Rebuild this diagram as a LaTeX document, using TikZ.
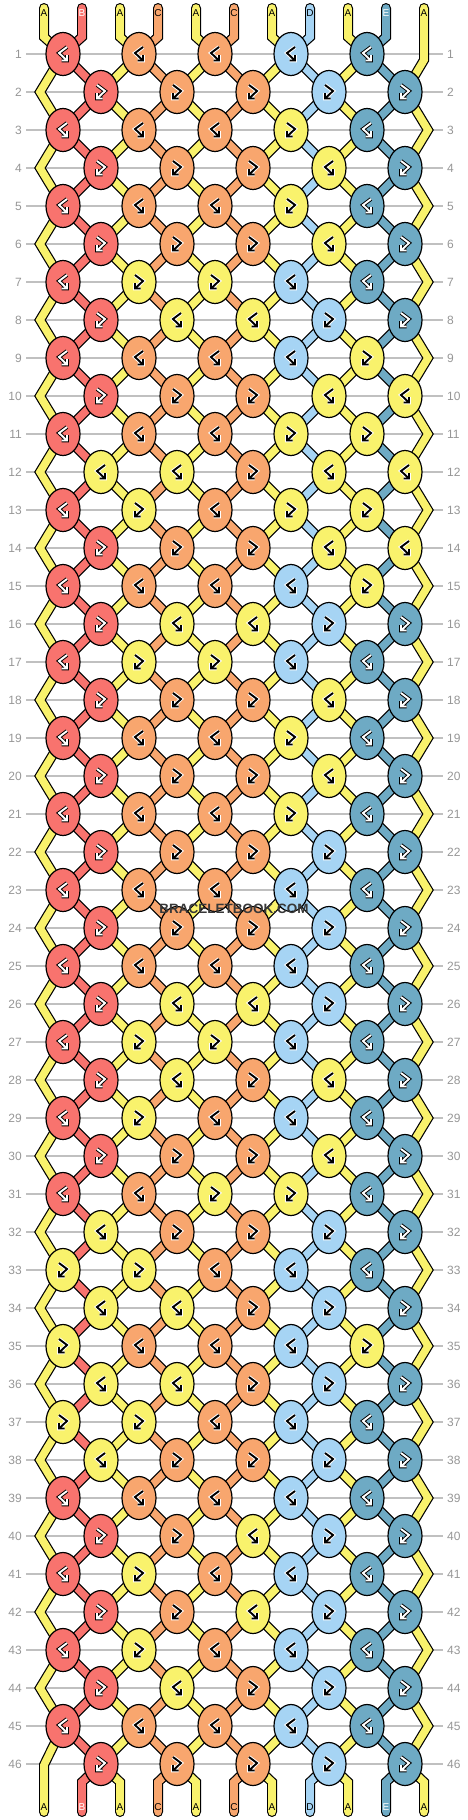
\documentclass[tikz,border=0pt]{standalone}
\usepackage{fontspec}
\setmainfont{Liberation Sans}
\usetikzlibrary{shapes.geometric}
\pgfdeclarelayer{background}
\pgfsetlayers{background,main}
\definecolor{colY}{RGB}{249,242,108}
\definecolor{colB}{RGB}{248,115,110}
\definecolor{colC}{RGB}{248,166,110}
\definecolor{colD}{RGB}{166,212,244}
\definecolor{colE}{RGB}{110,170,196}
\definecolor{gridgray}{RGB}{192,192,192}
\definecolor{labgray}{RGB}{150,150,150}
\tikzset{
  knot/.style={ellipse, draw=black, line width=1.2pt, minimum width=34pt, minimum height=43pt, inner sep=0pt},
  threadline/.style={line width=10pt, line join=miter},
  threadfill/.style={line width=7.6pt, line join=miter},
  glyphhalo/.style={line width=3.8pt, line join=miter},
  glyphink/.style={line width=1.9pt, line join=miter},
  rowlab/.style={text=labgray, font=\fontsize{12}{12}\selectfont, inner xsep=4pt},
  endlab/.style={font=\fontsize{10}{10}\selectfont, inner sep=0pt},
  gridline/.style={draw=gridgray, line width=1.2pt}
}
\def\lY{Y}\def\lB{B}\def\lE{E}
\begin{document}
\begin{tikzpicture}[x=1pt, y=-1pt]
\useasboundingbox (0,0) rectangle (468,1820);

% row numbers and guide lines
\foreach \r in {1,...,46}{
  \pgfmathsetmacro\ky{54+38*(\r-1)}
  \node[rowlab, anchor=east] (ll-\r) at (26,\ky) {\r};
  \node[rowlab, anchor=west] (rl-\r) at (443,\ky) {\r};
  \begin{pgfonlayer}{background}
    \draw[gridline] (ll-\r.east) -- (rl-\r.west);
  \end{pgfonlayer}
}

% knots: row / five knots (Y = the A thread on top)
\foreach \r/\ka/\kb/\kc/\kd/\ke in {1/B/C/C/D/E, 2/B/C/C/D/E, 3/B/C/C/Y/E, 4/B/C/C/Y/E,
  5/B/C/C/Y/E, 6/B/C/C/Y/E, 7/B/Y/Y/D/E, 8/B/Y/Y/D/E,
  9/B/C/C/D/Y, 10/B/C/C/Y/Y, 11/B/C/C/Y/Y, 12/Y/Y/C/Y/Y,
  13/B/Y/C/Y/Y, 14/B/C/C/Y/Y, 15/B/C/C/D/Y, 16/B/Y/Y/D/E,
  17/B/Y/Y/D/E, 18/B/C/C/Y/E, 19/B/C/C/Y/E, 20/B/C/C/Y/E,
  21/B/C/C/Y/E, 22/B/C/C/D/E, 23/B/C/C/D/E, 24/B/C/C/D/E,
  25/B/C/C/D/E, 26/B/Y/Y/D/E, 27/B/Y/Y/D/E, 28/B/Y/C/Y/E,
  29/B/Y/C/D/E, 30/B/C/C/Y/E, 31/B/C/Y/Y/E, 32/Y/C/C/D/E,
  33/Y/Y/C/D/E, 34/Y/Y/C/D/E, 35/Y/C/C/D/Y, 36/Y/Y/C/D/E,
  37/Y/Y/C/D/E, 38/Y/C/C/D/E, 39/B/C/C/D/E, 40/B/C/Y/D/E,
  41/B/Y/C/D/E, 42/B/C/Y/D/E, 43/B/Y/C/D/E, 44/B/Y/C/D/E,
  45/B/C/C/D/E, 46/B/C/C/D/E}{
  \pgfmathsetmacro\ky{54+38*(\r-1)}
  \ifodd\r\relax\def\kx{63}\else\def\kx{101}\fi
  \foreach \j/\kcol in {0/\ka,1/\kb,2/\kc,3/\kd,4/\ke}{
    \pgfmathsetmacro\xx{\kx+76*\j}
    \edef\cc{\kcol}
    \edef\cname{col\cc}
    \node[knot, fill=\cname] (k-\r-\j) at (\xx,\ky) {};
    \def\ink{black}\def\halo{white}
    \ifx\cc\lB\def\ink{white}\def\halo{black}\fi
    \ifx\cc\lE\def\ink{white}\def\halo{black}\fi
    \def\gs{1}
    \ifodd\r\relax
      \ifx\cc\lY\else\def\gs{-1}\fi
    \else
      \ifx\cc\lY\def\gs{-1}\fi
    \fi
    \begin{scope}[shift={(\xx,\ky)}, xscale=\gs]
      \draw[glyphhalo, draw=\halo] (-4,-7) -- (4,-1) -- (-4,6.5) (-4,1) -- (-4,6.5) -- (1.5,6.5);
      \draw[glyphink, draw=\ink] (-4,-7) -- (4,-1) -- (-4,6.5) (-4,1) -- (-4,6.5) -- (1.5,6.5);
    \end{scope}
  }
}

\begin{pgfonlayer}{background}
% threads between rows
\foreach \r in {1,...,45}{
  \pgfmathtruncatemacro\rn{\r+1}
  \foreach \j/\sc in {0/B,1/C,2/C,3/D,4/E}{
    \draw[threadline, draw=black] (k-\r-\j.center) -- (k-\rn-\j.center);
    \draw[threadfill, draw=col\sc] (k-\r-\j.center) -- (k-\rn-\j.center);
  }
  \ifodd\r\relax
    \foreach \j in {1,...,4}{
      \pgfmathtruncatemacro\jm{\j-1}
      \draw[threadline, draw=black] (k-\r-\j.center) -- (k-\rn-\jm.center);
      \draw[threadfill, draw=colY] (k-\r-\j.center) -- (k-\rn-\jm.center);
    }
  \else
    \foreach \j in {0,...,3}{
      \pgfmathtruncatemacro\jp{\j+1}
      \draw[threadline, draw=black] (k-\r-\j.center) -- (k-\rn-\jp.center);
      \draw[threadfill, draw=colY] (k-\r-\j.center) -- (k-\rn-\jp.center);
    }
  \fi
}
% outer A threads
\foreach \r in {1,3,...,43}{
  \pgfmathtruncatemacro\rn{\r+1}
  \pgfmathtruncatemacro\rr{\r+2}
  \coordinate (zl-\rn) at (40,{54+38*\r});
  \draw[threadline, draw=black] (k-\r-0.center) -- (zl-\rn) -- (k-\rr-0.center);
  \draw[threadfill, draw=colY] (k-\r-0.center) -- (zl-\rn) -- (k-\rr-0.center);
}
\foreach \r in {2,4,...,44}{
  \pgfmathtruncatemacro\rn{\r+1}
  \pgfmathtruncatemacro\rr{\r+2}
  \coordinate (zr-\rn) at (428,{54+38*\r});
  \draw[threadline, draw=black] (k-\r-4.center) -- (zr-\rn) -- (k-\rr-4.center);
  \draw[threadfill, draw=colY] (k-\r-4.center) -- (zr-\rn) -- (k-\rr-4.center);
}
% loose ends, top and bottom
\foreach \s/\sc/\j in {1/Y/0,2/B/0,3/Y/1,4/C/1,5/Y/2,6/C/2,7/Y/3,8/D/3,9/Y/4,10/E/4}{
  \pgfmathsetmacro\sx{44+38*(\s-1)}
  \coordinate (top-\s) at (\sx,8);
  \draw[threadline, draw=black, line cap=round] (top-\s) -- (\sx,37) -- (k-1-\j.center);
  \draw[threadfill, draw=col\sc, line cap=round] (top-\s) -- (\sx,37) -- (k-1-\j.center);
}
\coordinate (top-11) at (424,8);
\draw[threadline, draw=black, line cap=round] (top-11) -- (424,60) -- (k-2-4.center);
\draw[threadfill, draw=colY, line cap=round] (top-11) -- (424,60) -- (k-2-4.center);
\coordinate (bot-1) at (44,1812);
\draw[threadline, draw=black, line cap=round] (k-45-0.center) -- (44,1765) -- (bot-1);
\draw[threadfill, draw=colY, line cap=round] (k-45-0.center) -- (44,1765) -- (bot-1);
\foreach \s/\sc/\j in {2/B/0,3/Y/0,4/C/1,5/Y/1,6/C/2,7/Y/2,8/D/3,9/Y/3,10/E/4,11/Y/4}{
  \pgfmathsetmacro\sx{44+38*(\s-1)}
  \coordinate (bot-\s) at (\sx,1812);
  \draw[threadline, draw=black, line cap=round] (k-46-\j.center) -- (\sx,1782) -- (bot-\s);
  \draw[threadfill, draw=col\sc, line cap=round] (k-46-\j.center) -- (\sx,1782) -- (bot-\s);
}
\end{pgfonlayer}

% thread letters
\foreach \s/\tl/\tc in {1/A/black,2/B/white,3/A/black,4/C/black,5/A/black,6/C/black,7/A/black,8/D/black,9/A/black,10/E/white,11/A/black}{
  \node[endlab, text=\tc] (tl-\s) at (top-\s |- 0,13) {\tl};
  \node[endlab, text=\tc] (bl-\s) at (bot-\s |- 0,1807) {\tl};
}

\node[font=\bfseries\fontsize{13.5}{13.5}\selectfont, text=black!78] (mark) at (234,909) {BRACELETBOOK.COM};
\end{tikzpicture}
\end{document}
